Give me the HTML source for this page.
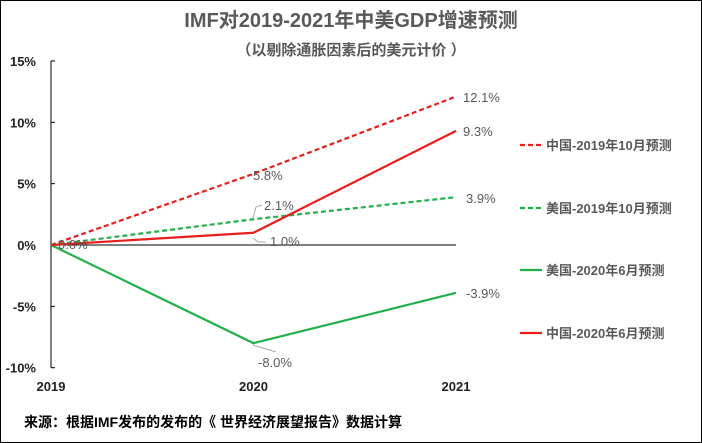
<!DOCTYPE html>
<html><head><meta charset="utf-8"><style>
html,body{margin:0;padding:0;background:#fff;}
svg{display:block;font-family:"Liberation Sans","Noto Sans CJK SC",sans-serif;}
</style></head><body>
<svg id="chart" width="702" height="443" viewBox="0 0 702 443">
<rect x="0.5" y="0.5" width="701" height="442" fill="#fff" stroke="#000"/>
<text x="351" y="27" text-anchor="middle" font-size="20" font-weight="bold" fill="#595959">IMF对2019-2021年中美GDP增速预测</text>
<text x="351" y="55" text-anchor="middle" font-size="15" font-weight="bold" fill="#595959">（以剔除通胀因素后的美元计价 ）</text>
<g id="axes"></g>
<g id="series"></g>
<g id="legend"></g>
<polyline points="253,238 258,242 266,242" fill="none" stroke="#aaa"/>
<polyline points="253,218 256,207 262,205" fill="none" stroke="#aaa"/>
<line x1="253" y1="345" x2="276" y2="352" stroke="#aaa"/>
<text x="24" y="427" font-size="14" font-weight="bold" fill="#000">来源：根据IMF发布的发布的《 世界经济展望报告》数据计算</text>
</svg>
<script>
const years = ["2019","2020","2021"];
const yTicks = [15,10,5,0,-5,-10];
const yTickLabels = ["15%","10%","5%","0%","-5%","-10%"];
const seriesNames = ["中国-2019年10月预测","美国-2019年10月预测","美国-2020年6月预测","中国-2020年6月预测"];
const china2019 = [0,5.8,12.1];
const us2019 = [0,2.1,3.9];
const us2020 = [0,-8.0,-3.9];
const china2020 = [0,1.0,9.3];

const NS="http://www.w3.org/2000/svg";
const x = i => 51 + i*202.5;
const y = v => 245 - v*12.27;
function mk(tag, attrs, parent, text){
  const e=document.createElementNS(NS,tag);
  for(const k in attrs) e.setAttribute(k,attrs[k]);
  if(text!==undefined) e.textContent=text;
  parent.appendChild(e); return e;
}
const axes=document.getElementById('axes');
let e=mk('line',{x1:51,y1:y(15),x2:51,y2:y(-10),stroke:'#000','stroke-width':1},axes);


e=mk('line',{x1:51,y1:y(0),x2:x(2),y2:y(0),stroke:'#000','stroke-width':1},axes);


yTicks.forEach((t,i)=>{
  const tk=mk('line',{x1:51,y1:y(t),x2:55,y2:y(t),stroke:'#000'},axes);
  
  
  const l=mk('text',{x:36,y:y(t)+5,'text-anchor':'end','font-size':13,'font-weight':'bold',fill:'#222'},axes,yTickLabels[i]);
  
  
});
years.forEach((yr,i)=>{
  const l=mk('text',{x:x(i),y:391,'text-anchor':'middle','font-size':13,'font-weight':'bold',fill:'#222'},axes,yr);
  
  
});
const defs=[
 {d:china2019,c:'#e8201c',dash:'5,3',name:'china-2019-oct-line',lab:[null,[253,180,'start'],[463,102,'start']]},
 {d:us2019,c:'#22b04b',dash:'5,3',name:'us-2019-oct-line',lab:[null,[264,210,'start'],[466,203,'start']]},
 {d:us2020,c:'#22b04b',dash:null,name:'us-2020-jun-line',lab:[null,[258,367,'start'],[466,298,'start']]},
 {d:china2020,c:'#e8201c',dash:null,name:'china-2020-jun-line',lab:[[58,249,'start'],[270,246,'start'],[463,136,'start']]}
];
const sg=document.getElementById('series');
defs.forEach(s=>{
  const pts=s.d.map((v,i)=>x(i)+','+y(v)).join(' ');
  const a={points:pts,fill:'none',stroke:s.c,'stroke-width':2.2};
  if(s.dash) a['stroke-dasharray']=s.dash;
  const p=mk('polyline',a,sg);
  
  
  s.d.forEach((v,i)=>{
    if(!s.lab[i]) return;
    const L=s.lab[i];
    const t=mk('text',{x:L[0],y:L[1],'text-anchor':L[2],'font-size':13,fill:'#595959'},sg,v.toFixed(1)+'%');
    
    
  });
});
const lg=document.getElementById('legend');
const ly=[145,208,270,333];
const lc=['#e8201c','#22b04b','#22b04b','#e8201c'];
const ld=['5,3','5,3',null,null];
seriesNames.forEach((n,i)=>{
  const a={x1:520,y1:ly[i],x2:542,y2:ly[i],stroke:lc[i],'stroke-width':2.2};
  if(ld[i]) a['stroke-dasharray']=ld[i];
  const l=mk('line',a,lg);
  
  
  const t=mk('text',{x:546,y:ly[i]+5,'font-size':13,'font-weight':'bold',fill:'#595959'},lg,n);
  
  
});
</script>
</body></html>
